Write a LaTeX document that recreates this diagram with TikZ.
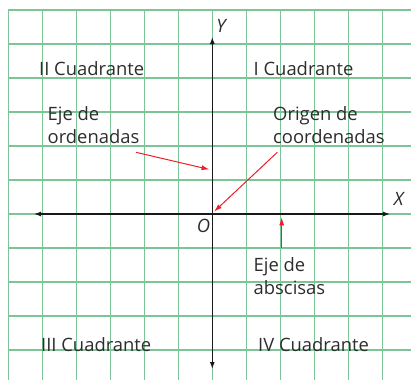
\documentclass[tikz,border=0pt]{standalone}
\usepackage{fontspec}
\setmainfont{Open Sans}
\usetikzlibrary{arrows.meta}
\definecolor{gridgreen}{RGB}{125,196,150}
\definecolor{txtgray}{RGB}{45,45,45}
\definecolor{arrred}{RGB}{237,32,40}
\tikzset{
  gridline/.style={draw=gridgreen, line width=1.1pt},
  axis/.style={draw=black!90, line width=1.2pt, {Latex[length=7pt,width=5pt]}-{Latex[length=7pt,width=5pt]}},
  pointer/.style={draw=arrred, line width=1pt, -{Latex[length=8pt,width=5pt]}},
  lbl/.style={font={\fontsize{18.4}{23}\selectfont}, text=txtgray, inner sep=0pt, align=left, anchor=base west},
  axlbl/.style={font={\fontsize{18.4}{20}\selectfont\itshape}, text=txtgray, inner sep=0pt},
}
\begin{document}
\begin{tikzpicture}[x=1pt,y=-1pt]
\useasboundingbox (0,0) rectangle (411,380);
% grid
\foreach \k in {0,...,11} { \draw[gridline] (8.3+34*\k,10) -- (8.3+34*\k,380); }
\foreach \k in {0,...,10} { \draw[gridline] (8.3,10+34*\k) -- (411,10+34*\k); }
% axes
\coordinate (xl) at (34,214);
\coordinate (xr) at (390,214);
\coordinate (yt) at (212.3,37);
\coordinate (yb) at (212.3,369);
\coordinate (o) at (212.3,214);
\draw[axis] (xl) -- (xr);
\draw[axis] (yb) -- (yt);
\node[axlbl] (Y) at (221,25.5) {Y};
\node[axlbl] (X) at (398.7,199) {X};
\node[axlbl] (O) at (203.5,225.7) {O};
% labels
\node[lbl] (q2) at (39,75) {II Cuadrante};
\node[lbl] (q1) at (253.5,75) {I Cuadrante};
\node[lbl] (q3) at (41,351) {III Cuadrante};
\node[lbl] (q4) at (258,351) {IV Cuadrante};
\node[lbl] (ord) at (47.5,143) {Eje de\\ordenadas};
\node[lbl] (org) at (273,143) {Origen de\\coordenadas};
\node[lbl] (abs) at (253.5,294) {Eje de\\abscisas};
% pointers
\coordinate (ordS) at (136,152.3);
\coordinate (ordE) at (209.5,169.5);
\coordinate (orgS) at (277.3,152.3);
\coordinate (orgE) at (214,211.7);
\coordinate (absS) at (281.7,248);
\coordinate (absE) at (281.7,217.3);
\draw[pointer] (ordS) -- (ordE);
\draw[pointer] (orgS) -- (orgE);
\draw[pointer] (absS) -- (absE);
\end{tikzpicture}
\end{document}
